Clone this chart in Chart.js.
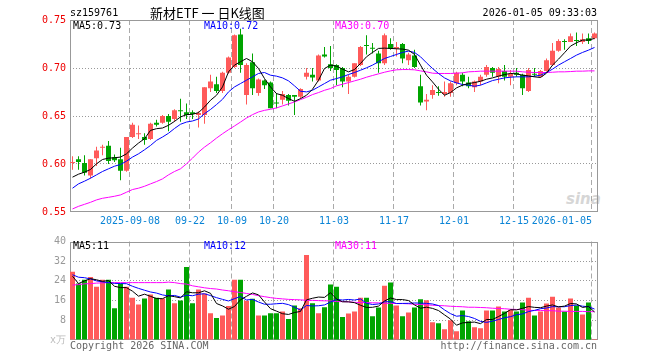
<!DOCTYPE html>
<html><head><meta charset="utf-8">
<script src="https://cdn.jsdelivr.net/npm/chart.js@4.4.0/dist/chart.umd.min.js"></script>
<style>
html,body{margin:0;padding:0;background:#fff;}
#wrap{position:relative;width:660px;height:360px;overflow:hidden;font-family:'DejaVu Sans Mono',monospace;}
canvas{position:absolute;left:0;}
.t{position:absolute;white-space:nowrap;font-size:10px;line-height:12px;font-family:'DejaVu Sans Mono',monospace;}
</style></head><body>
<div id="wrap">
<div class="t" style="left:566px;top:190px;font:italic bold 15px 'DejaVu Sans',sans-serif;color:#d6d6d6;">sina</div>
<canvas id="k" width="660" height="232" style="top:0"></canvas>
<canvas id="v" width="660" height="128" style="top:232px"></canvas>
<div class="t" style="left:70px;top:7px;color:#000;">sz159761</div>
<div class="t" style="left:150px;top:5px;font:13px/16px 'Noto Sans CJK SC',sans-serif;color:#000;">新材ETF 一 日K线图</div>
<div class="t" style="right:63px;top:7px;color:#000;">2026-01-05 09:33:03</div>
<div class="t" style="left:73px;top:20px;color:#000;">MA5:0.73</div>
<div class="t" style="left:204px;top:20px;color:#0000ff;">MA10:0.72</div>
<div class="t" style="left:335px;top:20px;color:#ff00ff;">MA30:0.70</div>
<div class="t" style="left:73px;top:240px;color:#000;">MA5:11</div>
<div class="t" style="left:204px;top:240px;color:#0000ff;">MA10:12</div>
<div class="t" style="left:335px;top:240px;color:#ff00ff;">MA30:11</div>
<div class="t" style="left:50px;top:334px;color:#bbb;">x万</div>
<div class="t" style="left:70px;top:340px;color:#666;">Copyright 2026 SINA.COM</div>
<div class="t" style="right:63px;top:340px;color:#666;">http://finance.sina.com.cn</div>
</div>
<script>
const dates = ['2025-08-25','2025-08-26','2025-08-27','2025-08-28','2025-08-29','2025-09-01','2025-09-02','2025-09-03','2025-09-04','2025-09-05',
'2025-09-08','2025-09-09','2025-09-10','2025-09-11','2025-09-12','2025-09-15','2025-09-16','2025-09-17','2025-09-18','2025-09-19',
'2025-09-22','2025-09-23','2025-09-24','2025-09-25','2025-09-26','2025-09-29','2025-09-30','2025-10-09','2025-10-10','2025-10-13',
'2025-10-14','2025-10-15','2025-10-16','2025-10-17','2025-10-20','2025-10-21','2025-10-22','2025-10-23','2025-10-24','2025-10-27',
'2025-10-28','2025-10-29','2025-10-30','2025-10-31','2025-11-03','2025-11-04','2025-11-05','2025-11-06','2025-11-07','2025-11-10',
'2025-11-11','2025-11-12','2025-11-13','2025-11-14','2025-11-17','2025-11-18','2025-11-19','2025-11-20','2025-11-21','2025-11-24',
'2025-11-25','2025-11-26','2025-11-27','2025-11-28','2025-12-01','2025-12-02','2025-12-03','2025-12-04','2025-12-05','2025-12-08',
'2025-12-09','2025-12-10','2025-12-11','2025-12-12','2025-12-15','2025-12-16','2025-12-17','2025-12-18','2025-12-19','2025-12-22',
'2025-12-23','2025-12-24','2025-12-25','2025-12-26','2025-12-29','2025-12-30','2025-12-31','2026-01-05'];

const tickDates = ['2025-09-08','2025-09-22','2025-10-09','2025-10-20','2025-11-03','2025-11-17','2025-12-01','2025-12-15','2026-01-05'];
const tickTexts = ['2025-09-08','09-22','10-09','10-20','11-03','11-17','12-01','12-15','2026-01-05'];

const open  = [0.601,0.605,0.601,0.588,0.606,0.617,0.619,0.607,0.605,0.593,
0.628,0.631,0.628,0.626,0.643,0.643,0.650,0.647,0.656,0.654,
0.654,0.651,0.651,0.679,0.683,0.676,0.695,0.701,0.735,0.672,
0.706,0.674,0.687,0.685,0.664,0.667,0.672,0.672,0.670,0.691,
0.693,0.687,0.714,0.704,0.703,0.700,0.686,0.691,0.703,0.724,
0.721,0.715,0.705,0.725,0.720,0.725,0.708,0.713,0.681,0.665,
0.672,0.675,0.673,0.674,0.684,0.693,0.685,0.680,0.686,0.693,
0.700,0.691,0.697,0.691,0.695,0.693,0.676,0.694,0.691,0.697,
0.703,0.718,0.728,0.727,0.729,0.727,0.731,0.731];
const high  = [0.608,0.608,0.609,0.605,0.618,0.620,0.624,0.610,0.617,0.628,
0.643,0.640,0.632,0.643,0.646,0.651,0.652,0.657,0.668,0.663,
0.656,0.655,0.680,0.693,0.691,0.696,0.712,0.735,0.741,0.705,
0.715,0.689,0.688,0.686,0.674,0.676,0.673,0.672,0.679,0.700,
0.700,0.714,0.722,0.723,0.704,0.701,0.693,0.705,0.723,0.734,
0.726,0.718,0.736,0.731,0.727,0.726,0.716,0.719,0.693,0.673,
0.682,0.681,0.686,0.686,0.696,0.695,0.691,0.687,0.693,0.703,
0.701,0.701,0.703,0.698,0.700,0.694,0.700,0.700,0.698,0.710,
0.726,0.730,0.730,0.736,0.737,0.736,0.736,0.737];
const low   = [0.594,0.594,0.588,0.585,0.598,0.609,0.600,0.602,0.583,0.592,
0.627,0.626,0.620,0.625,0.639,0.642,0.634,0.644,0.644,0.647,
0.647,0.638,0.642,0.675,0.674,0.674,0.694,0.700,0.695,0.662,
0.672,0.671,0.678,0.658,0.658,0.662,0.661,0.651,0.668,0.688,
0.686,0.686,0.711,0.697,0.682,0.680,0.673,0.690,0.702,0.714,
0.715,0.695,0.703,0.719,0.712,0.705,0.703,0.700,0.661,0.656,
0.668,0.671,0.670,0.670,0.682,0.681,0.679,0.675,0.682,0.691,
0.691,0.684,0.687,0.682,0.691,0.672,0.675,0.691,0.690,0.696,
0.702,0.717,0.719,0.727,0.723,0.725,0.725,0.730];
const close = [0.602,0.602,0.591,0.605,0.614,0.618,0.603,0.604,0.593,0.628,
0.641,0.632,0.625,0.642,0.641,0.650,0.644,0.656,0.655,0.651,
0.652,0.653,0.680,0.686,0.676,0.695,0.711,0.734,0.703,0.703,
0.679,0.688,0.682,0.658,0.663,0.673,0.666,0.670,0.678,0.695,
0.690,0.713,0.712,0.700,0.698,0.686,0.691,0.705,0.722,0.723,
0.720,0.705,0.734,0.720,0.722,0.710,0.714,0.701,0.664,0.667,
0.677,0.674,0.675,0.684,0.695,0.686,0.681,0.686,0.691,0.701,
0.695,0.699,0.691,0.694,0.693,0.679,0.698,0.693,0.697,0.708,
0.718,0.728,0.727,0.733,0.728,0.730,0.728,0.736];

const ma5 = [0.5863,0.5894,0.5915,0.5943,0.6002,0.6047,0.6061,0.6065,0.6072,0.6106,
0.6166,0.6218,0.6263,0.6350,0.6368,0.6375,0.6403,0.6444,0.6490,0.6514,
0.6518,0.6535,0.6594,0.6664,0.6716,0.6803,0.6960,0.7030,0.7065,0.7099,
0.7065,0.6995,0.6890,0.6803,0.6733,0.6716,0.6681,0.6653,0.6681,0.6716,
0.6779,0.6873,0.6995,0.7030,0.7019,0.6988,0.6960,0.6984,0.7047,0.7117,
0.7162,0.7204,0.7207,0.7204,0.7200,0.7197,0.7186,0.7141,0.7030,0.6925,
0.6855,0.6779,0.6716,0.6744,0.6793,0.6821,0.6838,0.6848,0.6862,0.6883,
0.6897,0.6915,0.6932,0.6943,0.6939,0.6925,0.6918,0.6908,0.6901,0.6946,
0.7030,0.7092,0.7159,0.7228,0.7263,0.7291,0.7291,0.7308];
const ma10 = [0.5748,0.5793,0.5821,0.5852,0.5887,0.5922,0.5950,0.5977,0.5995,0.6030,
0.6072,0.6106,0.6148,0.6193,0.6246,0.6281,0.6320,0.6370,0.6414,0.6437,
0.6448,0.6469,0.6524,0.6568,0.6619,0.6674,0.6751,0.6803,0.6838,0.6873,
0.6908,0.6943,0.6953,0.6925,0.6915,0.6897,0.6866,0.6814,0.6758,0.6751,
0.6768,0.6803,0.6838,0.6873,0.6890,0.6908,0.6932,0.6953,0.6977,0.7002,
0.7030,0.7065,0.7099,0.7120,0.7141,0.7162,0.7176,0.7162,0.7117,0.7054,
0.6995,0.6943,0.6897,0.6866,0.6845,0.6828,0.6821,0.6810,0.6821,0.6845,
0.6869,0.6883,0.6897,0.6904,0.6908,0.6908,0.6908,0.6915,0.6925,0.6953,
0.6988,0.7030,0.7065,0.7099,0.7134,0.7162,0.7186,0.7214];
const ma30 = [0.5532,0.5559,0.5580,0.5601,0.5626,0.5643,0.5653,0.5664,0.5678,0.5706,
0.5734,0.5748,0.5768,0.5793,0.5817,0.5845,0.5887,0.5922,0.5950,0.6002,
0.6061,0.6124,0.6176,0.6221,0.6270,0.6315,0.6357,0.6396,0.6437,0.6479,
0.6514,0.6542,0.6559,0.6570,0.6584,0.6605,0.6626,0.6646,0.6671,0.6695,
0.6723,0.6744,0.6768,0.6786,0.6814,0.6831,0.6848,0.6866,0.6883,0.6904,
0.6922,0.6939,0.6956,0.6970,0.6981,0.6984,0.6984,0.6981,0.6970,0.6960,
0.6946,0.6943,0.6943,0.6943,0.6946,0.6950,0.6960,0.6963,0.6967,0.6967,
0.6967,0.6967,0.6967,0.6967,0.6967,0.6960,0.6956,0.6953,0.6953,0.6953,
0.6956,0.6960,0.6960,0.6963,0.6967,0.6967,0.6970,0.6970];

const volume = [27.7,22.9,24.5,25.6,21.6,24.5,24.5,12.9,22.9,21.6,
17.2,14.4,16.9,18.5,17.2,16.9,20.5,14.9,16.0,29.6,
14.9,20.5,18.9,10.9,8.9,10.0,13.8,24.5,24.5,15.9,
16.8,10.0,10.0,10.9,10.9,11.6,8.5,14.0,12.9,34.5,
14.9,10.9,13.3,22.5,21.6,9.3,10.8,11.6,17.2,17.2,
9.6,13.2,22.0,23.3,14.0,9.6,11.2,13.2,16.5,16.1,
7.2,6.8,4.4,8.0,3.6,12.0,7.6,5.2,4.8,12.0,
12.0,13.6,11.6,12.3,11.6,15.2,17.2,10.0,11.6,14.8,
17.6,13.2,11.6,16.9,14.0,10.4,15.2,0.4];
const volMa5 = [25.9,22.9,24.0,24.9,24.46,23.82,24.14,21.82,21.28,21.28,
19.82,17.8,18.6,17.72,16.84,16.78,18.0,17.6,17.1,19.58,
19.18,19.18,19.98,18.96,14.82,13.84,12.5,13.62,16.34,17.74,
19.1,18.34,15.44,12.72,11.72,10.68,10.38,11.18,11.58,16.3,
16.96,17.44,17.3,19.22,16.64,15.52,15.5,15.16,14.1,13.22,
13.28,13.76,15.84,17.06,16.42,16.42,16.02,14.26,12.9,13.32,
12.84,11.96,10.2,8.5,6.0,6.96,7.12,7.28,6.64,8.32,
8.32,9.52,10.8,12.3,12.22,12.86,13.58,13.26,13.12,13.76,
14.24,13.44,13.76,14.82,14.66,13.22,13.62,11.38];
const volMa10 = [26.5,25.5,25.3,24.8,24.0,23.6,23.3,23.0,22.9,22.87,
21.82,20.97,20.21,19.5,19.06,18.3,17.9,18.1,17.41,18.21,
17.98,18.59,18.79,18.03,17.2,16.51,15.84,16.8,17.65,16.28,
16.47,15.42,14.53,14.53,14.73,14.89,14.36,13.31,12.15,14.01,
13.82,13.91,14.24,15.4,16.47,16.24,16.47,16.23,16.66,14.93,
14.4,14.63,15.5,15.58,14.82,14.85,14.89,15.05,14.98,14.87,
14.63,13.99,12.23,10.7,9.66,9.9,9.54,8.74,7.57,7.16,
7.64,8.32,9.04,9.47,10.27,10.59,11.55,12.03,12.71,12.99,
13.55,13.51,13.51,13.97,14.21,13.73,13.53,12.57];
const volMa30 = [22.3,22.5,22.8,22.9,23.1,23.2,23.3,23.3,23.3,23.3,
23.3,23.3,23.3,23.3,23.3,23.3,23.5,23.3,22.9,22.7,
22.0,21.6,21.2,20.9,20.7,20.3,20.0,19.6,19.3,18.9,
18.5,18.0,17.6,17.2,16.9,16.7,16.5,16.4,16.3,16.1,
16.1,16.0,15.9,15.9,15.6,15.6,15.5,15.3,15.2,15.2,
15.1,15.1,14.9,14.9,14.8,14.8,14.7,14.5,14.4,14.3,
14.1,14.0,13.9,13.7,13.6,13.5,13.3,13.3,13.2,13.1,
12.9,12.8,12.7,12.5,12.4,12.3,12.1,12.0,12.0,11.9,
11.9,11.7,11.7,11.6,11.6,11.6,11.5,11.5];

const RED = '#ff5a5a', GREEN = '#00a400';
const candleColors = close.map((c, i) => c >= open[i] ? RED : GREEN);
const bodies = open.map((o, i) => [Math.min(o, close[i]), Math.max(o, close[i])]);
const wicks = low.map((l, i) => [l, high[i]]);
const gridIdx = new Set(tickDates.map(d => dates.indexOf(d)));
const CLEAR = 'rgba(0,0,0,0)';
const MONO = "'DejaVu Sans Mono', monospace";

Chart.defaults.font.family = MONO;
Chart.defaults.font.size = 10;

const framePlugin = {
  id: 'frame',
  beforeDatasetsDraw(chart) {
    const a = chart.chartArea, ctx = chart.ctx;
    const l = Math.round(a.left), t = Math.round(a.top), r = Math.round(a.right), b = Math.round(a.bottom);
    ctx.save();
    ctx.strokeStyle = '#999';
    ctx.lineWidth = 1;
    ctx.strokeRect(l + 0.5, t + 0.5, r - l - 1, b - t - 1);
    ctx.restore();
  }
};

const xLabelPlugin = {
  id: 'xLabels',
  afterDraw(chart) {
    const xs = chart.scales.x, ctx = chart.ctx, a = chart.chartArea;
    const half = (xs.getPixelForValue(1) - xs.getPixelForValue(0)) / 2;
    ctx.save();
    ctx.font = '10px ' + MONO;
    ctx.fillStyle = '#0a84d6';
    ctx.textBaseline = 'middle';
    tickDates.forEach((d, k) => {
      const i = dates.indexOf(d);
      const gx = Math.round(xs.getPixelForValue(i) - half);
      const w = ctx.measureText(tickTexts[k]).width;
      ctx.textAlign = (gx + w / 2 > a.right) ? 'right' : 'center';
      ctx.fillText(tickTexts[k], gx, a.bottom + 9);
    });
    ctx.restore();
  }
};

function lineDs(data, color) {
  return { type: 'line', data, borderColor: color, borderWidth: 1, pointRadius: 0, tension: 0, fill: false, order: 0 };
}

function xScale(h) {
  return {
    offset: true,
    grid: { offset: true, drawTicks: false, lineWidth: 1, color: c => gridIdx.has(c.index) ? '#aaa' : CLEAR },
    border: { display: false, dash: [5, 3] },
    ticks: { display: false, autoSkip: false },
    afterFit: s => { s.height = h; }
  };
}

new Chart(document.getElementById('k'), {
  type: 'bar',
  data: {
    labels: dates,
    datasets: [
      lineDs(ma5, '#000000'),
      lineDs(ma10, '#0000ff'),
      lineDs(ma30, '#ff00ff'),
      { type: 'bar', data: bodies, backgroundColor: candleColors, borderWidth: 0, barPercentage: 5 / 6, categoryPercentage: 1, grouped: false, minBarLength: 1, order: 1 },
      { type: 'bar', data: wicks, backgroundColor: candleColors, borderWidth: 0, barPercentage: 1 / 6, categoryPercentage: 1, grouped: false, order: 2 }
    ]
  },
  options: {
    responsive: false, animation: false, events: [], devicePixelRatio: 1,
    layout: { padding: { left: 0, right: 62.5, top: 20, bottom: 0 } },
    plugins: { legend: { display: false }, tooltip: { enabled: false } },
    scales: {
      x: xScale(20),
      y: {
        min: 0.55, max: 0.75,
        ticks: { stepSize: 0.05, color: '#ee0000', padding: 3.5, font: { size: 10, family: MONO }, callback: v => Number(v).toFixed(2) },
        grid: { drawTicks: false, color: c => (c.tick && c.tick.value > 0.56 && c.tick.value < 0.74) ? '#999' : CLEAR },
        border: { display: false, dash: [1, 2] },
        afterFit: s => { s.width = 69.5; }
      }
    }
  },
  plugins: [framePlugin, xLabelPlugin]
});

new Chart(document.getElementById('v'), {
  type: 'bar',
  data: {
    labels: dates,
    datasets: [
      lineDs(volMa5, '#000000'),
      lineDs(volMa10, '#0000ff'),
      lineDs(volMa30, '#ff00ff'),
      { type: 'bar', data: volume, backgroundColor: candleColors, borderWidth: 0, barPercentage: 5 / 6, categoryPercentage: 1, grouped: false, order: 1 }
    ]
  },
  options: {
    responsive: false, animation: false, events: [], devicePixelRatio: 1,
    layout: { padding: { left: 0, right: 62.5, top: 8, bottom: 0 } },
    plugins: { legend: { display: false }, tooltip: { enabled: false } },
    scales: {
      x: xScale(20),
      y: {
        min: 0, max: 40,
        ticks: { stepSize: 8, color: '#999', padding: 3.5, font: { size: 10, family: MONO }, callback: v => v === 0 ? '' : String(v) },
        grid: { drawTicks: false, color: c => (c.tick && c.tick.value > 1 && c.tick.value < 39) ? '#999' : CLEAR },
        border: { display: false, dash: [1, 2] },
        afterFit: s => { s.width = 69.5; }
      }
    }
  },
  plugins: [framePlugin]
});
</script>
</body></html>
